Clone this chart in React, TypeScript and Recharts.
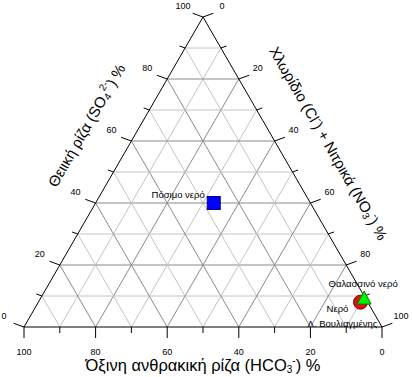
import React from 'react';
import { ScatterChart, Scatter, XAxis, YAxis, ReferenceLine, ReferenceDot } from 'recharts';

// Sample names and compositions (% of anions)
const samples = ['Πόσιμο νερό', 'Θαλασσινό νερό', 'Νερό Λ. Βουλιαγμένης'];
const hco3 = [27, 0.5, 2];
const so4 = [40, 9, 8];
const clno3 = [33, 90.5, 90];

// Axis ticks
const tickValues = [0, 10, 20, 30, 40, 50, 60, 70, 80, 90, 100];
const tickLabels = [0, 20, 40, 60, 80, 100];
const gridValues = [10, 20, 30, 40, 50, 60, 70, 80, 90];

const H = Math.sqrt(3) / 2;
const FONT = 'Arial, "Liberation Sans", sans-serif';

// ternary -> cartesian (x: 0..100, y: 0..86.6)
const toXY = (cl: number, s: number) => ({ x: cl + s / 2, y: s * H });

const points = samples.map((name, i) => ({
  name,
  hco3: hco3[i],
  so4: so4[i],
  cl: clno3[i],
  ...toXY(clno3[i], so4[i]),
}));

const isMajor = (v: number) => v % 20 === 0;

const PX = 358 / 100; // px per data unit

const TextDot = (props: any) => {
  const { cx, cy, text, rotate, size, anchor, children } = props;
  if (cx == null || cy == null) return null;
  return (
    <text
      x={cx}
      y={cy}
      fontFamily={FONT}
      fontSize={size || 9}
      fill="#000"
      textAnchor={anchor || 'middle'}
      dominantBaseline="central"
      transform={rotate ? `rotate(${rotate} ${cx} ${cy})` : undefined}
    >
      {children || text}
    </text>
  );
};

const SquareShape = (p: any) => {
  const { cx, cy, payload } = p;
  return (
    <g>
      <rect x={cx - 6.5} y={cy - 6.5} width={13} height={13} fill="#0000ff" stroke="#000080" strokeWidth={1} />
      <text x={cx - 9} y={cy - 9} fontFamily={FONT} fontSize={9.5} textAnchor="end" dominantBaseline="central" fill="#000">
        {payload.name}
      </text>
    </g>
  );
};

const TriangleShape = (p: any) => {
  const { cx, cy, payload } = p;
  const d = `M${cx},${cy - 8} L${cx + 7},${cy + 5} L${cx - 7},${cy + 5} Z`;
  return (
    <g>
      <text x={cx - 1} y={cy - 16} fontFamily={FONT} fontSize={9.5} textAnchor="middle" dominantBaseline="central" fill="#000">
        {payload.name}
      </text>
      <path d={d} fill="#00ee00" stroke="#008000" strokeWidth={1} />
    </g>
  );
};

const CircleShape = (p: any) => {
  const { cx, cy, payload } = p;
  const parts = String(payload.name).split(' ');
  const first = parts[0];
  const rest = parts.slice(1).join(' ');
  return (
    <g>
      <circle cx={cx} cy={cy} r={7} fill="#dd1111" stroke="#800000" strokeWidth={1} />
      <text x={cx - 23} y={cy + 6} fontFamily={FONT} fontSize={9.5} textAnchor="middle" dominantBaseline="central" fill="#000">
        {first}
      </text>
      <text x={cx - 18} y={cy + 21} fontFamily={FONT} fontSize={9.5} textAnchor="middle" dominantBaseline="central" fill="#000">
        {rest}
      </text>
    </g>
  );
};

export default function App() {
  const gridLines: any[] = [];
  gridValues.forEach((k) => {
    const stroke = isMajor(k) ? '#8a8a8a' : '#c4c4c4';
    // constant SO4
    gridLines.push({ key: `s${k}`, seg: [{ x: k / 2, y: k * H }, { x: 100 - k / 2, y: k * H }], stroke });
    // constant Cl
    gridLines.push({ key: `c${k}`, seg: [{ x: k, y: 0 }, { x: k + (100 - k) / 2, y: (100 - k) * H }], stroke });
    // constant HCO3
    gridLines.push({ key: `h${k}`, seg: [{ x: 100 - k, y: 0 }, { x: (100 - k) / 2, y: (100 - k) * H }], stroke });
  });

  const edges = [
    [{ x: 0, y: 0 }, { x: 100, y: 0 }],
    [{ x: 0, y: 0 }, { x: 50, y: 100 * H }],
    [{ x: 100, y: 0 }, { x: 50, y: 100 * H }],
  ];

  const dirL = { x: -0.94, y: 0.34 };
  const dirR = { x: 0.94, y: 0.34 };
  const ticks: any[] = [];
  tickValues.forEach((v) => {
    const len = (isMajor(v) ? 11 : 6) / PX;
    // bottom: HCO3 = v  -> x = 100 - v
    const bx = 100 - v;
    ticks.push({ key: `tb${v}`, seg: [{ x: bx, y: 0 }, { x: bx, y: -len }] });
    // left: SO4 = v
    const lp = { x: v / 2, y: v * H };
    ticks.push({ key: `tl${v}`, seg: [lp, { x: lp.x + dirL.x * len, y: lp.y + dirL.y * len }] });
    // right: Cl = v
    const rp = { x: v + (100 - v) / 2, y: (100 - v) * H };
    ticks.push({ key: `tr${v}`, seg: [rp, { x: rp.x + dirR.x * len, y: rp.y + dirR.y * len }] });
  });

  const labels: any[] = [];
  tickLabels.forEach((v) => {
    labels.push({ key: `lb${v}`, x: 100 - v, y: -25 / PX, text: String(v) });
    labels.push({ key: `ll${v}`, x: v / 2 - 20 / PX, y: v * H + 11.5 / PX, text: String(v) });
    labels.push({ key: `lr${v}`, x: v + (100 - v) / 2 + 19 / PX, y: (100 - v) * H + 11.5 / PX, text: String(v) });
  });

  const sub = 10;

  return (
    <div style={{ position: 'absolute', left: 0, top: 0 }}>
      <ScatterChart width={412} height={377} margin={{ top: 17, right: 30, bottom: 50, left: 24 }}>
        <XAxis type="number" dataKey="x" domain={[0, 100]} hide />
        <YAxis type="number" dataKey="y" domain={[0, 100 * H]} hide />
        {gridLines.map((g) => (
          <ReferenceLine key={g.key} segment={g.seg} stroke={g.stroke} strokeWidth={1} ifOverflow="visible" />
        ))}
        {edges.map((e, i) => (
          <ReferenceLine key={`e${i}`} segment={e} stroke="#000" strokeWidth={1} ifOverflow="visible" />
        ))}
        {ticks.map((t) => (
          <ReferenceLine key={t.key} segment={t.seg} stroke="#000" strokeWidth={1} ifOverflow="visible" />
        ))}
        {labels.map((l) => (
          <ReferenceDot
            key={l.key}
            x={l.x}
            y={l.y}
            r={0}
            ifOverflow="visible"
            shape={(p: any) => <TextDot cx={p.cx} cy={p.cy} text={l.text} size={9} />}
          />
        ))}
        <ReferenceDot
          x={50}
          y={-38 / PX}
          r={0}
          ifOverflow="visible"
          shape={(p: any) => (
            <TextDot cx={p.cx} cy={p.cy} size={16.5}>
              <tspan>Όξινη ανθρακική ρίζα (HCO</tspan>
              <tspan fontSize={sub} dy={4}>3</tspan>
              <tspan fontSize={sub} dy={-9}>-</tspan>
              <tspan dy={5}>) %</tspan>
            </TextDot>
          )}
        />
        <ReferenceDot
          x={(86 - 24) / PX}
          y={(327 - 125) / PX}
          r={0}
          ifOverflow="visible"
          shape={(p: any) => (
            <TextDot cx={p.cx} cy={p.cy} size={15} rotate={-60}>
              <tspan>Θειική ρίζα (SO</tspan>
              <tspan fontSize={sub} dy={4}>4</tspan>
              <tspan fontSize={sub} dy={-9}>2-</tspan>
              <tspan dy={5}>) %</tspan>
            </TextDot>
          )}
        />
        <ReferenceDot
          x={(329 - 24) / PX}
          y={(327 - 143) / PX}
          r={0}
          ifOverflow="visible"
          shape={(p: any) => (
            <TextDot cx={p.cx} cy={p.cy} size={15} rotate={60}>
              <tspan>Χλωρίδιο (Cl</tspan>
              <tspan fontSize={sub} dy={-5}>-</tspan>
              <tspan dy={5}>) + Νιτρικά (NO</tspan>
              <tspan fontSize={sub} dy={4}>3</tspan>
              <tspan fontSize={sub} dy={-9}>-</tspan>
              <tspan dy={5}>) %</tspan>
            </TextDot>
          )}
        />
        <Scatter data={[points[0]]} dataKey="y" shape={SquareShape} isAnimationActive={false} />
        <Scatter data={[points[2]]} dataKey="y" shape={CircleShape} isAnimationActive={false} />
        <Scatter data={[points[1]]} dataKey="y" shape={TriangleShape} isAnimationActive={false} />
      </ScatterChart>
    </div>
  );
}
